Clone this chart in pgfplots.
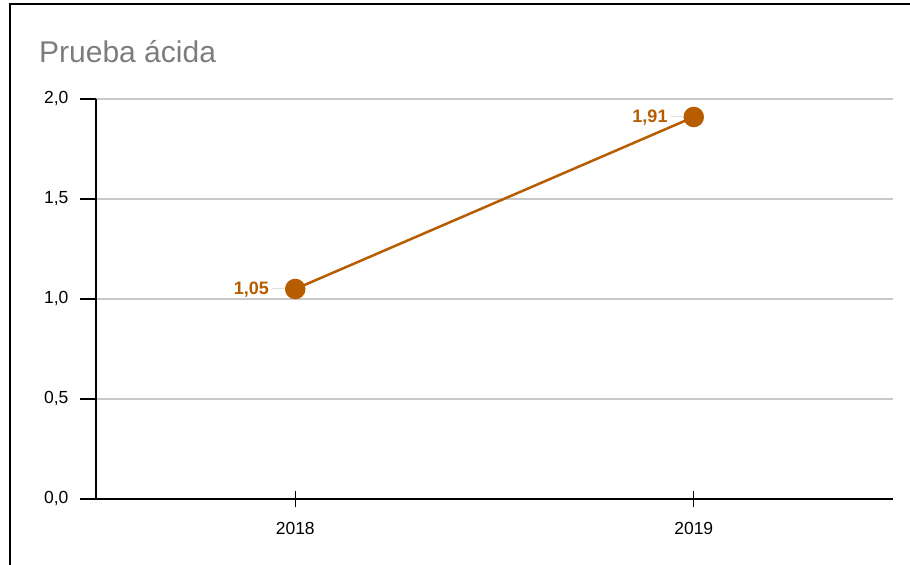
\documentclass[border=0pt]{standalone}
\usepackage{pgfplots}
\pgfplotsset{compat=1.18}
\usepackage{fontspec}
\setmainfont{Liberation Sans}
\definecolor{lineor}{RGB}{184,92,0}
\definecolor{titlegray}{RGB}{125,125,125}
\definecolor{gridgray}{RGB}{200,200,200}
\begin{document}
\begin{tikzpicture}[x=1bp,y=1bp]
\useasboundingbox (0,0) rectangle (910,565);
\draw[line width=2bp,black] (10,0) -- (10,561) -- (910,561);
\node[anchor=base west,text=titlegray,font=\fontsize{30bp}{34bp}\selectfont,inner sep=0pt] at (39,502) {Prueba ácida};
\begin{axis}[
  at={(96bp,66bp)}, anchor=south west,
  scale only axis, width=797bp, height=400bp,
  xmin=-0.5, xmax=1.5, ymin=0, ymax=2,
  axis lines*=left,
  axis line style={line width=1.2bp,black},
  xtick={0,1}, xticklabels={2018,2019},
  ytick={0,0.5,1,1.5,2},
  tick align=center,
  major tick length=16bp,
  xtick style={line width=1.2bp,black,yshift=-0.5bp},
  ytick style={line width=1.2bp,black,xshift=-8bp},
  ymajorgrids, grid style={line width=1.3bp,gridgray},
  tick label style={font=\fontsize{17.5bp}{20bp}\selectfont},
  /pgf/number format/assume math mode=true,
  yticklabel={\pgfmathprintnumber[fixed,fixed zerofill,precision=1,use comma]{\tick}},
  yticklabel style={anchor=east,xshift=-16bp},
  xticklabel style={yshift=-12bp},
  clip=false,
]
\addplot[color=lineor,line width=2.5bp,mark=*,mark size=9bp,mark options={fill=lineor,draw=none},
  nodes near coords={\textbf{\pgfmathprintnumber[fixed,fixed zerofill,precision=2,use comma,assume math mode=true]{\pgfplotspointmeta}}\,\textcolor{gridgray!60}{\rule[0.35em]{12bp}{0.8bp}}},
  point meta=explicit,
  every node near coord/.append style={anchor=east,xshift=-10bp,yshift=-1bp,text=lineor,font=\fontsize{18bp}{20bp}\selectfont,inner sep=0pt}]
coordinates {(0,1.05) [1.05] (1,1.91) [1.91]};
\end{axis}
\end{tikzpicture}
\end{document}
